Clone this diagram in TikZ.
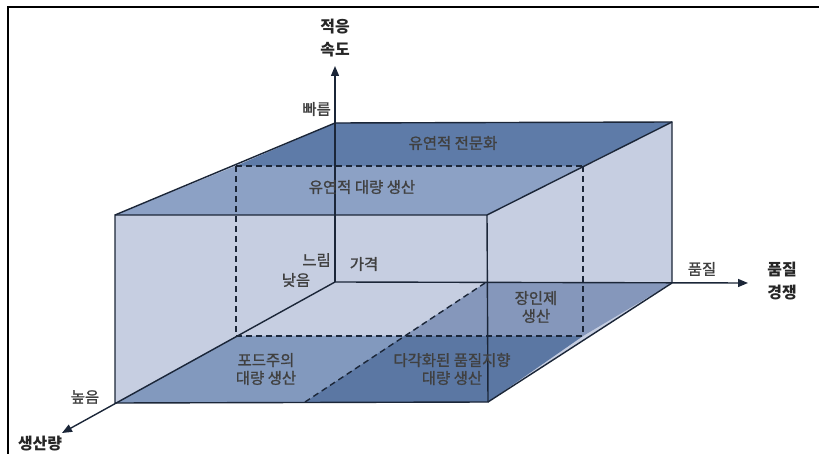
\documentclass[tikz,border=0pt]{standalone}
\usepackage{fontspec}
\newfontfamily\kr{Noto Sans CJK KR}
\newfontfamily\krm{Noto Sans CJK KR}[RawFeature={embolden=1.2}]
\usetikzlibrary{arrows.meta}
\definecolor{wall}{HTML}{C6CEE1}
\definecolor{topback}{HTML}{5E7BA8}
\definecolor{topfront}{HTML}{8CA1C5}
\definecolor{botfl}{HTML}{8299BE}
\definecolor{botfr}{HTML}{5B77A3}
\definecolor{botbr}{HTML}{8597BB}
\definecolor{edge}{HTML}{1B2638}
\definecolor{lab}{HTML}{404040}
\tikzset{
  edgeline/.style={draw=edge, line width=1.4bp},
  dashline/.style={draw=edge, line width=1.4bp, dash pattern=on 6bp off 4bp},
  axisline/.style={draw=edge, line width=1.4bp, -{Triangle[length=10bp,width=8bp]}},
  inlab/.style={font=\krm\fontsize{15.5}{18}\selectfont, text=lab, inner sep=0pt, align=center},
  axtitle/.style={font=\kr\bfseries\fontsize{16}{23}\selectfont, text=black!85, inner sep=0pt, align=center},
}
\begin{document}
\begin{tikzpicture}[x=1bp,y=-1bp]
\useasboundingbox (0,0) rectangle (819,454);
% frame
\draw[line width=1.6bp, black] (8,454) -- (8,7) -- (819,7);
% cube corners
\coordinate (FTL) at (115,215);
\coordinate (FTR) at (487,215);
\coordinate (FBL) at (115,403);
\coordinate (FBR) at (488,402);
\coordinate (BTL) at (335,123);
\coordinate (BTR) at (672,122);
\coordinate (O)   at (335,282);
\coordinate (BBR) at (672,283);
\coordinate (MTL) at (236,166);
\coordinate (MTR) at (583,166);
\coordinate (MBL) at (236,336);
\coordinate (MBR) at (583,336);
\coordinate (DF)  at (305,402);
\coordinate (DM)  at (404,336);
\coordinate (DB)  at (485,283);
% axis ends
\coordinate (Vtip) at (335,66);
\coordinate (Htip) at (748,283);
\coordinate (Dtip) at (62,433);
% fills
\fill[wall] (FBL) -- (FTL) -- (BTL) -- (BTR) -- (BBR) -- (FBR) -- cycle;
\fill[topback] (BTL) -- (BTR) -- (MTR) -- (MTL) -- cycle;
\fill[topfront] (MTL) -- (MTR) -- (FTR) -- (FTL) -- cycle;
\fill[botfl] (FBL) -- (MBL) -- (DM) -- (DF) -- cycle;
\fill[botfr] (DF) -- (DM) -- (MBR) -- (FBR) -- cycle;
\fill[botbr] (DM) -- (DB) -- (BBR) -- (MBR) -- cycle;
% dashed mid lines
\draw[dashline] (MTL) -- (MTR);
\draw[dashline] (MTL) -- (MBL);
\draw[dashline] (MTR) -- (MBR);
\draw[dashline] (MBL) -- (MBR);
\draw[dashline] (DF) -- (DB);
% solid edges
\draw[edgeline] (FTL) -- (FTR) -- (FBR) -- (FBL) -- cycle;
\draw[edgeline] (FTL) -- (BTL) -- (BTR) -- (BBR);
\draw[edgeline] (FTR) -- (BTR);
\draw[edgeline] (FBR) -- (BBR);
% axes
\draw[axisline] (O) -- (Vtip);
\draw[axisline] (O) -- (Htip);
\draw[axisline] (O) -- (Dtip);
% axis titles
\node[axtitle] (tv) at (335,38) {적응\\속도};
\node[axtitle] (th) at (782,281) {품질\\경쟁};
\node[axtitle] (td) at (40,444) {생산량};
% axis labels
\node[inlab, anchor=east] (fast) at (331,109) {빠름};
\node[inlab, anchor=east] (slow) at (331,260) {느림};
\node[inlab] (low) at (296,280) {낮음};
\node[inlab] (price) at (364,264) {가격};
\node[inlab] (qual) at (702,269) {품질};
\node[inlab] (high) at (85,397) {높음};
% region labels
\node[inlab] (r1) at (453,143) {유연적 전문화};
\node[inlab] (r2) at (362,187) {유연적 대량 생산};
\node[inlab] (r3) at (536,307) {장인제\\생산};
\node[inlab] (r4) at (266,369) {포드주의\\대량 생산};
\node[inlab] (r5) at (452,369) {다각화된 품질지향\\대량 생산};
\end{tikzpicture}
\end{document}
